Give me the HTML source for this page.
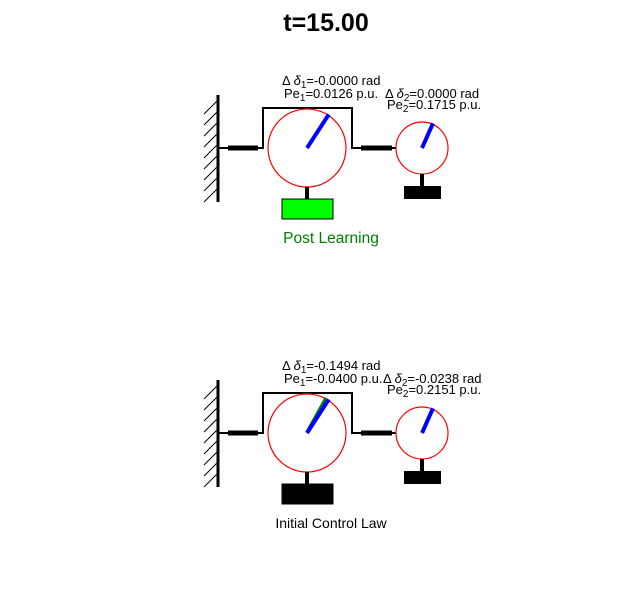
<!DOCTYPE html>
<html><head><meta charset="utf-8"><style>
body{margin:0;background:#fff;width:631px;height:602px;overflow:hidden}
svg{font-family:"Liberation Sans",sans-serif}
</style></head><body>
<svg width="631" height="602">
<text x="326" y="31" text-anchor="middle" font-size="25" font-weight="bold">t=15.00</text>
<g id="panels"></g>
</svg>
<script>
const panelLabels=["Post Learning","Initial Control Law"];
const panelColors=["#008000","#000"];
const boxColors=["#00ff00","#000"];
const dDelta1=["-0.0000","-0.1494"];
const pe1=["0.0126","-0.0400"];
const dDelta2=["0.0000","-0.0238"];
const pe2=["0.1715","0.2151"];
const angle1=[-57,-57];
const angle1Ref=[null,-61];
const angle2=[-66,-66];
const offsets=[0,285];
const NS="http://www.w3.org/2000/svg";
const root=document.getElementById('panels');
function el(t,a,p){const e=document.createElementNS(NS,t);for(const k in a)e.setAttribute(k,a[k]);(p||root).appendChild(e);return e;}
function needle(g,cx,cy,r,deg,col){const a=deg*Math.PI/180;return el('line',{x1:cx,y1:cy,x2:cx+r*Math.cos(a),y2:cy+r*Math.sin(a),stroke:col,'stroke-width':4},g);}
offsets.forEach((oy,i)=>{
 const g=el('g',{transform:`translate(0,${oy})`});
 
 
 el('line',{x1:218,y1:95,x2:218,y2:202,stroke:'#000','stroke-width':3},g);
 for(let y=100;y<=195;y+=11)el('line',{x1:218,y1:y,x2:204,y2:y+14,stroke:'#000','stroke-width':1},g);
 el('polyline',{points:'218,148 263,148 263,108 352,108 352,148 397,148',fill:'none',stroke:'#000','stroke-width':2},g);
 el('line',{x1:228,y1:148,x2:258,y2:148,stroke:'#000','stroke-width':5},g);
 el('line',{x1:361,y1:148,x2:392,y2:148,stroke:'#000','stroke-width':5},g);
 const c1=el('circle',{cx:307,cy:148,r:39,fill:'#fff',stroke:'#f00','stroke-width':1.2},g);
 
 
 const c2=el('circle',{cx:422,cy:148,r:26,fill:'#fff',stroke:'#f00','stroke-width':1.2},g);
 
 
 if(angle1Ref[i]!==null)needle(g,307,148,40,angle1Ref[i],'#008000');
 needle(g,307,148,40,angle1[i],'#0000ff');
 needle(g,422,148,27,angle2[i],'#0000ff');
 el('line',{x1:307,y1:187,x2:307,y2:200,stroke:'#000','stroke-width':4},g);
 el('rect',{x:282,y:199,width:51,height:20,fill:boxColors[i],stroke:'#000','stroke-width':1},g);
 el('line',{x1:422,y1:174,x2:422,y2:186,stroke:'#000','stroke-width':4},g);
 el('rect',{x:404,y:186,width:37,height:13,fill:'#000'},g);
 const t1=el('text',{x:282,y:85,'font-size':13},g);t1.innerHTML=`Δ <tspan font-style="italic">δ</tspan><tspan dy="3" font-size="10">1</tspan><tspan dy="-3">=${dDelta1[i]} rad</tspan>`;
 const t2=el('text',{x:284,y:98,'font-size':13},g);t2.innerHTML=`Pe<tspan dy="3" font-size="10">1</tspan><tspan dy="-3">=${pe1[i]} p.u.</tspan>`;
 const t3=el('text',{x:i?383:385,y:98,'font-size':13},g);t3.innerHTML=`Δ <tspan font-style="italic">δ</tspan><tspan dy="3" font-size="10">2</tspan><tspan dy="-3">=${dDelta2[i]} rad</tspan>`;
 const t4=el('text',{x:387,y:109,'font-size':13},g);t4.innerHTML=`Pe<tspan dy="3" font-size="10">2</tspan><tspan dy="-3">=${pe2[i]} p.u.</tspan>`;
 const lb=el('text',{x:331,y:243,'font-size':i?14:15.5,'text-anchor':'middle',fill:panelColors[i]},g);
 lb.textContent=panelLabels[i];
 
 
});
</script>
</body></html>
